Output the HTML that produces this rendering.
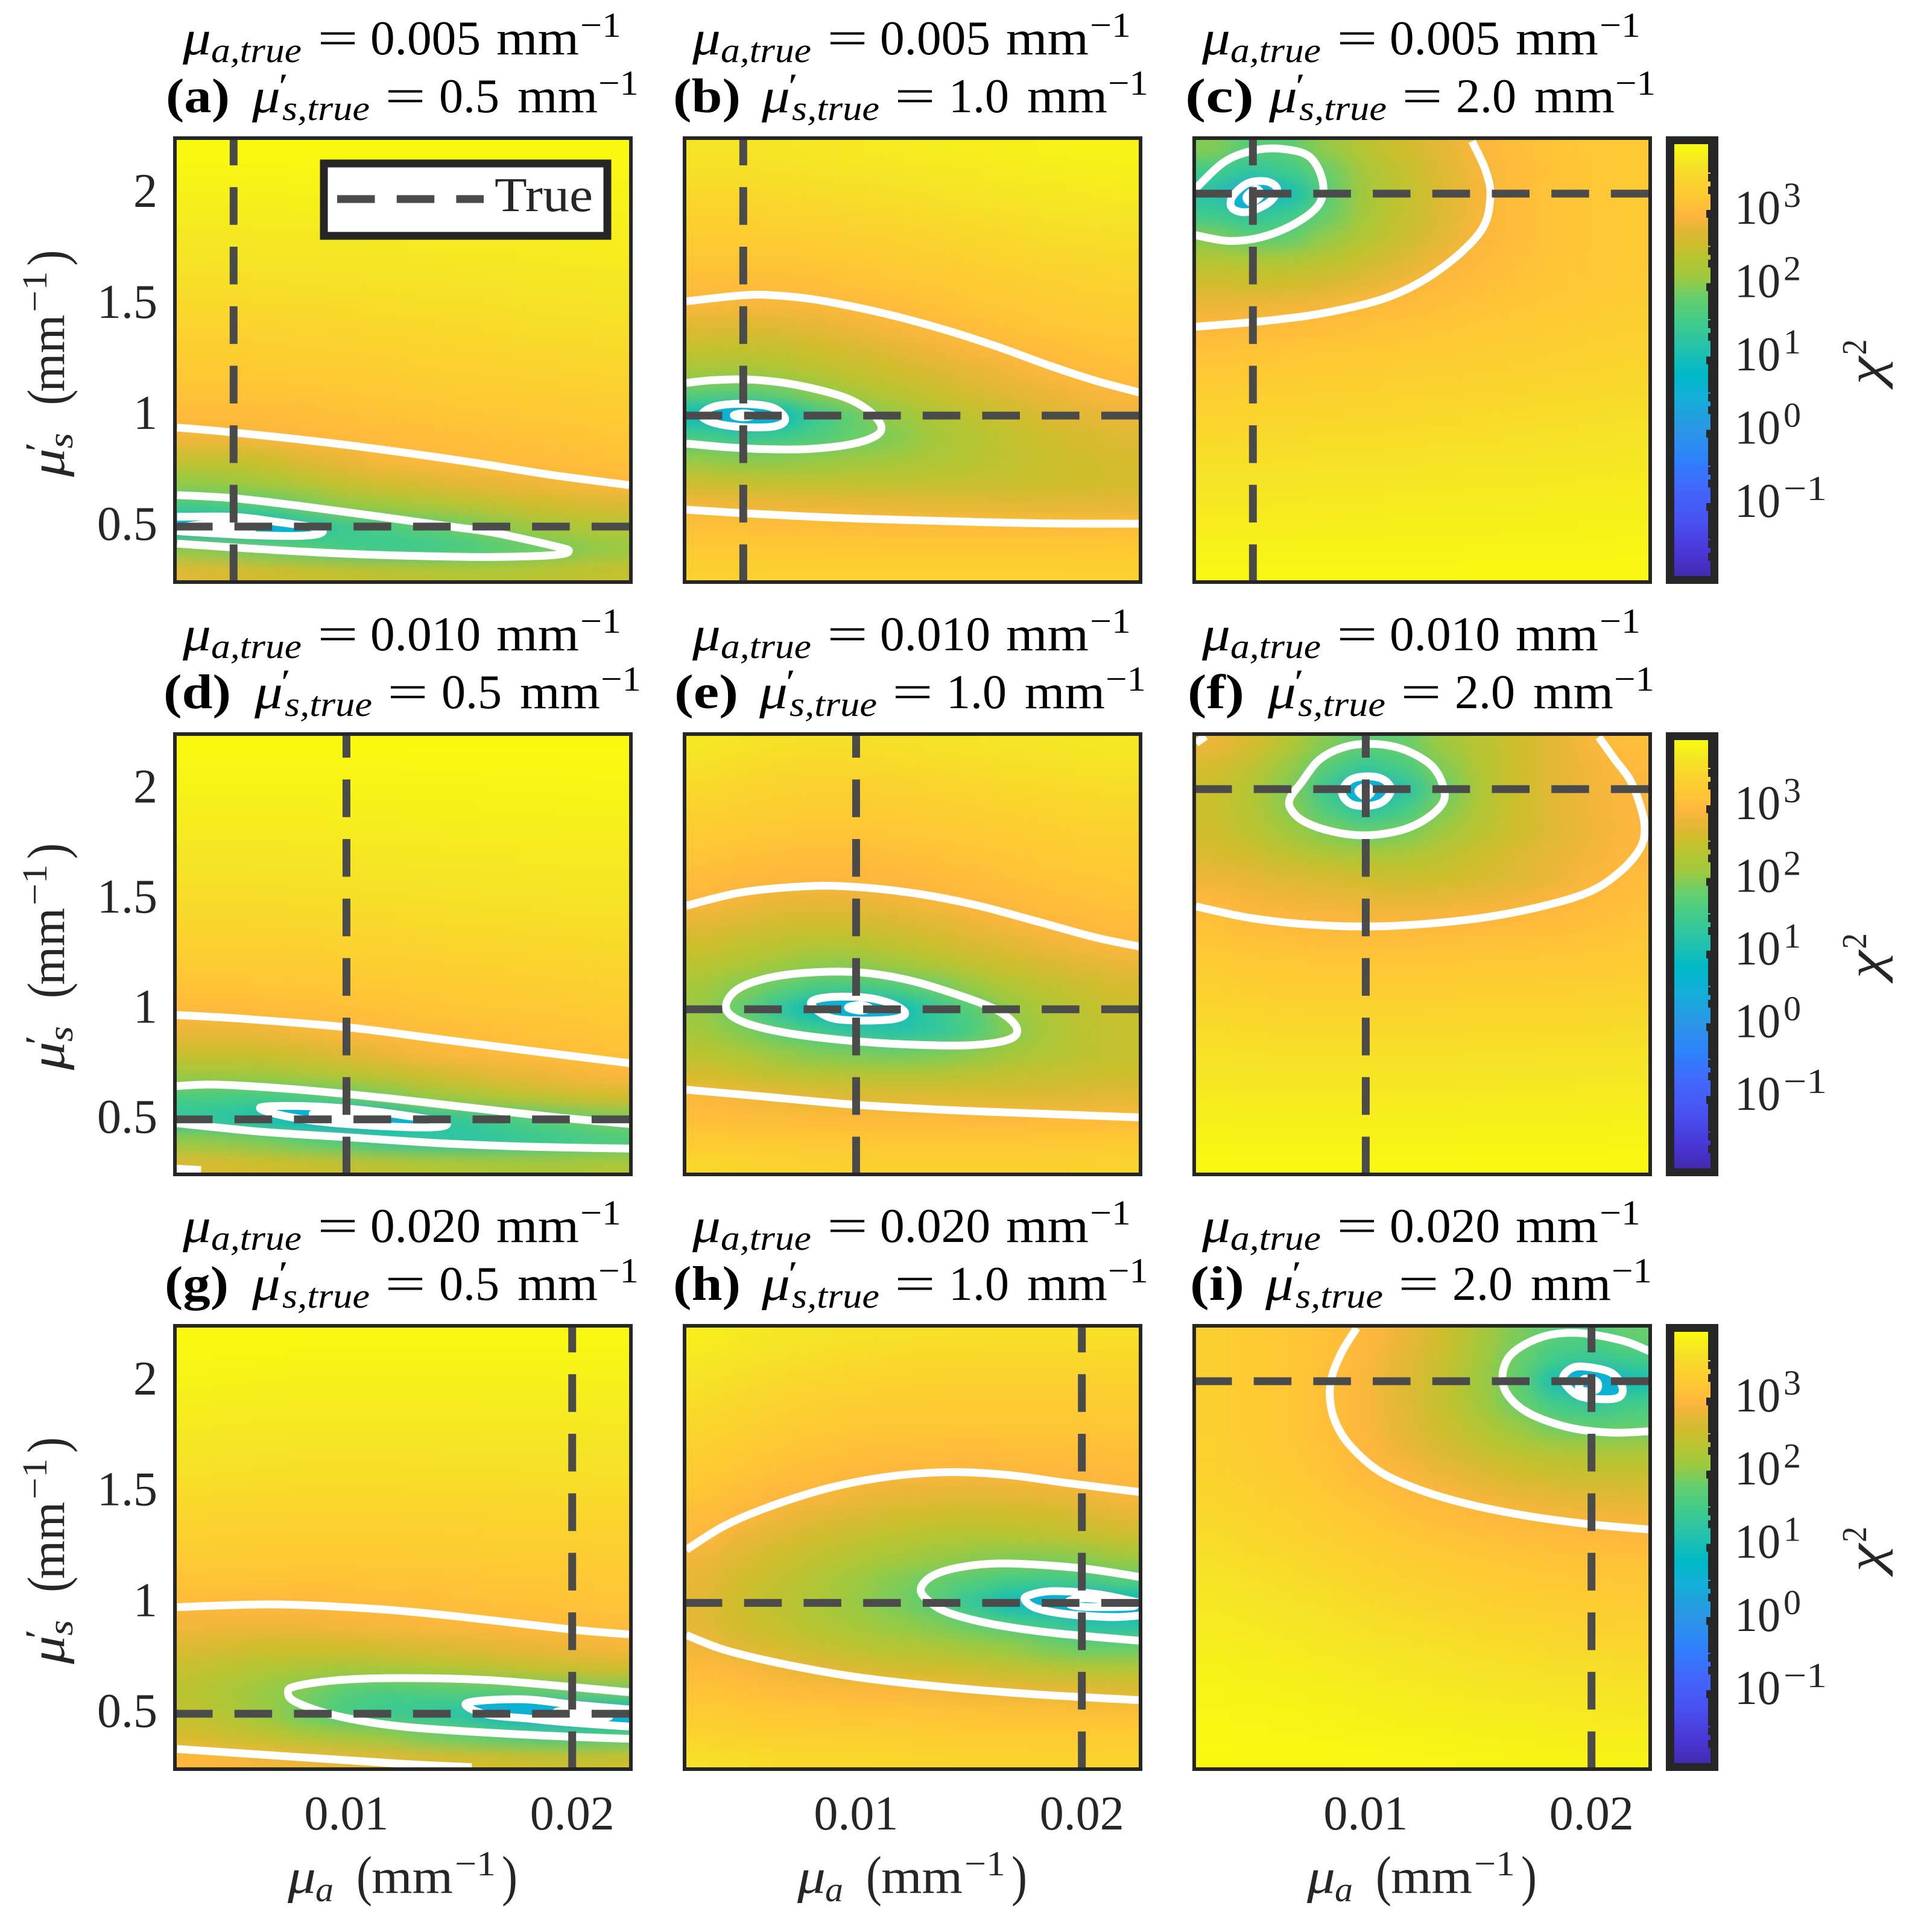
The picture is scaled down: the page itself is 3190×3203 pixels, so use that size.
<!DOCTYPE html>
<html lang="en">
<head>
<meta charset="utf-8">
<title>Chi-squared maps</title>
<style>
html,body{margin:0;padding:0;background:#fff;width:3190px;height:3203px;overflow:hidden}
svg{display:block}
text{font-family:"Liberation Serif","DejaVu Serif",serif}
</style>
</head>
<body>
<svg id="fig" xmlns="http://www.w3.org/2000/svg" width="3190" height="3203" viewBox="0 0 3190 3203"></svg>
<script>
// ---------- data ----------
const panelLetters = ['a','b','c','d','e','f','g','h','i'];
const trueMuA = [0.005,0.005,0.005,0.010,0.010,0.010,0.020,0.020,0.020];
const trueMuS = [0.5,1.0,2.0,0.5,1.0,2.0,0.5,1.0,2.0];
const xTicks = [0.01,0.02];
const xTickLabels = ['0.01','0.02'];
const yTicks = [0.5,1,1.5,2];
const yTickLabels = ['0.5','1','1.5','2'];
const cbExponents = [3,2,1,0,-1];
const cbExponentLabels = ['3','2','1','0','\u22121'];
const cbTabDecades = [3,2,1,0,-1,-2];
const xCells = [.0032,.0049,.0066,.0083,.0100,.0117,.0134,.0151,.0168,.0185,.0202,.0218];
const yCells = [2.2,2.1,2.0,1.9,1.8,1.7,1.6,1.5,1.4,1.3,1.2,1.1,1.0,.9,.8,.7,.6,.5,.4,.3];

// log10(chi^2), rows top to bottom, columns left to right
const fieldA = [
[3.93,3.93,3.93,3.93,3.93,3.93,3.93,3.93,3.93,3.93,3.93,3.93],
[3.88,3.88,3.88,3.88,3.89,3.89,3.89,3.89,3.9,3.9,3.9,3.9],
[3.83,3.83,3.83,3.84,3.84,3.84,3.85,3.85,3.85,3.86,3.86,3.86],
[3.78,3.78,3.78,3.79,3.79,3.8,3.8,3.81,3.81,3.82,3.82,3.83],
[3.72,3.72,3.73,3.73,3.74,3.75,3.76,3.77,3.77,3.78,3.79,3.8],
[3.66,3.66,3.67,3.68,3.69,3.7,3.71,3.72,3.73,3.74,3.75,3.76],
[3.6,3.6,3.61,3.62,3.63,3.64,3.65,3.67,3.68,3.69,3.7,3.71],
[3.53,3.53,3.54,3.55,3.57,3.58,3.6,3.61,3.62,3.64,3.65,3.66],
[3.45,3.45,3.46,3.48,3.49,3.51,3.53,3.55,3.56,3.58,3.59,3.6],
[3.36,3.36,3.37,3.39,3.41,3.43,3.45,3.47,3.49,3.51,3.52,3.54],
[3.26,3.26,3.28,3.3,3.32,3.34,3.37,3.39,3.41,3.43,3.45,3.47],
[3.15,3.15,3.17,3.19,3.22,3.24,3.27,3.3,3.32,3.34,3.36,3.38],
[3.04,3.04,3.06,3.08,3.11,3.14,3.17,3.2,3.22,3.25,3.27,3.29],
[2.9,2.9,2.95,3.0,3.02,3.05,3.08,3.1,3.13,3.15,3.17,3.2],
[2.5,2.5,2.6,2.75,2.85,2.95,3.0,3.03,3.06,3.08,3.1,3.12],
[2.1,2.15,2.25,2.4,2.55,2.65,2.7,2.8,2.85,2.9,2.95,3.0],
[1.6,1.65,1.75,1.95,2.1,2.2,2.3,2.4,2.5,2.6,2.65,2.7],
[0.6,0.55,0.9,1.2,1.45,1.6,1.75,1.9,2.05,2.2,2.3,2.35],
[2.05,1.95,1.85,1.7,1.55,1.45,1.45,1.55,1.7,1.85,2.0,2.1],
[2.75,2.7,2.6,2.55,2.5,2.45,2.4,2.35,2.35,2.4,2.45,2.5]];
const fieldB = [
[3.68,3.68,3.70,3.72,3.74,3.76,3.78,3.80,3.82,3.84,3.85,3.86],
[3.6,3.6,3.62,3.64,3.67,3.7,3.72,3.74,3.76,3.78,3.8,3.82],
[3.52,3.52,3.54,3.56,3.58,3.6,3.64,3.67,3.7,3.72,3.74,3.76],
[3.42,3.42,3.44,3.46,3.48,3.52,3.55,3.58,3.61,3.64,3.66,3.68],
[3.32,3.32,3.33,3.35,3.38,3.42,3.46,3.5,3.53,3.56,3.58,3.6],
[3.2,3.2,3.21,3.23,3.27,3.31,3.36,3.4,3.44,3.47,3.5,3.52],
[3.07,3.07,3.08,3.1,3.15,3.2,3.25,3.3,3.34,3.38,3.41,3.44],
[2.95,2.94,2.95,2.97,3.02,3.08,3.14,3.2,3.25,3.29,3.33,3.36],
[2.75,2.72,2.75,2.8,2.88,2.95,3.01,3.08,3.14,3.2,3.24,3.27],
[2.5,2.48,2.52,2.6,2.68,2.78,2.88,2.95,3.03,3.09,3.14,3.18],
[2.2,2.18,2.28,2.4,2.5,2.6,2.7,2.8,2.9,2.98,3.04,3.08],
[1.75,1.7,1.85,2.05,2.25,2.4,2.52,2.65,2.75,2.85,2.92,2.98],
[0.9,0.2,0.9,1.45,1.85,2.1,2.28,2.45,2.58,2.7,2.78,2.85],
[1.6,1.4,1.5,1.65,1.85,2.0,2.2,2.35,2.47,2.58,2.66,2.72],
[2.1,2.05,2.05,2.1,2.15,2.2,2.28,2.38,2.46,2.54,2.6,2.66],
[2.55,2.5,2.48,2.45,2.45,2.45,2.47,2.5,2.53,2.56,2.6,2.64],
[2.9,2.88,2.86,2.84,2.82,2.8,2.78,2.78,2.77,2.77,2.78,2.8],
[3.1,3.1,3.08,3.07,3.06,3.05,3.05,3.05,3.05,3.05,3.05,3.06],
[3.28,3.28,3.27,3.26,3.25,3.25,3.25,3.25,3.25,3.25,3.26,3.27],
[3.42,3.42,3.41,3.41,3.41,3.41,3.41,3.41,3.41,3.41,3.42,3.42]];
const fieldC = [
[2.0,1.7,1.75,2.1,2.4,2.6,2.8,2.97,3.1,3.18,3.24,3.28],
[1.5,1.3,1.5,1.85,2.25,2.5,2.72,2.93,3.08,3.17,3.23,3.27],
[1.2,0.2,1.0,1.75,2.2,2.47,2.7,2.92,3.07,3.16,3.22,3.26],
[1.5,1.3,1.5,1.85,2.25,2.5,2.72,2.94,3.07,3.16,3.22,3.26],
[2.0,1.75,1.8,2.1,2.35,2.55,2.78,2.97,3.08,3.16,3.22,3.26],
[2.35,2.3,2.3,2.4,2.55,2.72,2.9,3.03,3.11,3.18,3.23,3.27],
[2.6,2.58,2.6,2.66,2.78,2.9,3.02,3.09,3.15,3.21,3.25,3.29],
[2.85,2.85,2.88,2.92,3.0,3.05,3.11,3.16,3.21,3.25,3.29,3.33],
[3.0,3.02,3.05,3.08,3.12,3.16,3.2,3.24,3.28,3.32,3.35,3.38],
[3.12,3.15,3.18,3.2,3.23,3.26,3.29,3.32,3.35,3.38,3.41,3.43],
[3.25,3.27,3.29,3.31,3.33,3.35,3.37,3.4,3.42,3.44,3.46,3.48],
[3.35,3.37,3.38,3.4,3.42,3.44,3.46,3.47,3.49,3.51,3.53,3.55],
[3.45,3.46,3.47,3.49,3.5,3.51,3.53,3.54,3.56,3.58,3.59,3.6],
[3.53,3.54,3.55,3.56,3.57,3.58,3.6,3.61,3.62,3.63,3.65,3.66],
[3.6,3.61,3.62,3.63,3.64,3.65,3.66,3.67,3.68,3.69,3.7,3.71],
[3.67,3.68,3.69,3.7,3.7,3.71,3.72,3.73,3.73,3.74,3.75,3.76],
[3.74,3.74,3.75,3.75,3.76,3.76,3.77,3.78,3.78,3.79,3.79,3.8],
[3.8,3.8,3.8,3.81,3.81,3.82,3.82,3.82,3.83,3.83,3.84,3.84],
[3.85,3.85,3.85,3.86,3.86,3.86,3.86,3.87,3.87,3.87,3.87,3.88],
[3.9,3.9,3.9,3.9,3.9,3.9,3.9,3.91,3.91,3.91,3.91,3.91]];
const fieldD = [
[3.93,3.93,3.93,3.93,3.93,3.93,3.93,3.93,3.93,3.93,3.93,3.93],
[3.89,3.89,3.89,3.89,3.89,3.89,3.9,3.9,3.9,3.9,3.91,3.91],
[3.85,3.85,3.85,3.85,3.85,3.85,3.86,3.86,3.87,3.87,3.87,3.88],
[3.8,3.8,3.8,3.8,3.81,3.81,3.82,3.82,3.83,3.83,3.84,3.84],
[3.75,3.75,3.75,3.76,3.76,3.77,3.77,3.78,3.79,3.79,3.8,3.8],
[3.69,3.69,3.7,3.7,3.71,3.72,3.73,3.74,3.74,3.75,3.76,3.76],
[3.63,3.63,3.64,3.65,3.66,3.67,3.68,3.69,3.7,3.71,3.72,3.72],
[3.56,3.56,3.57,3.58,3.59,3.6,3.62,3.63,3.64,3.65,3.66,3.67],
[3.48,3.48,3.49,3.5,3.52,3.53,3.55,3.56,3.57,3.59,3.6,3.61],
[3.4,3.4,3.41,3.42,3.44,3.45,3.47,3.49,3.5,3.52,3.53,3.55],
[3.29,3.29,3.3,3.32,3.34,3.36,3.38,3.4,3.42,3.44,3.45,3.47],
[3.17,3.17,3.18,3.2,3.23,3.25,3.28,3.3,3.32,3.34,3.37,3.39],
[3.03,3.04,3.06,3.08,3.11,3.14,3.17,3.2,3.22,3.25,3.27,3.3],
[2.85,2.85,2.88,2.94,3.0,3.03,3.06,3.09,3.12,3.15,3.17,3.2],
[2.55,2.55,2.58,2.65,2.75,2.85,2.95,3.0,3.03,3.06,3.09,3.12],
[2.15,2.15,2.2,2.28,2.38,2.48,2.58,2.68,2.78,2.85,2.92,2.97],
[1.6,1.55,1.55,1.65,1.78,1.95,2.1,2.22,2.35,2.45,2.55,2.62],
[1.3,1.2,1.0,0.7,0.3,0.8,1.2,1.35,1.55,1.7,1.85,1.95],
[2.1,2.05,1.95,1.8,1.65,1.4,1.3,1.25,1.3,1.4,1.5,1.6],
[2.7,2.65,2.6,2.55,2.5,2.42,2.35,2.3,2.25,2.25,2.25,2.3]];
const fieldE = [
[3.72,3.66,3.62,3.6,3.6,3.62,3.64,3.66,3.68,3.7,3.72,3.74],
[3.62,3.57,3.53,3.5,3.5,3.52,3.55,3.58,3.6,3.62,3.64,3.66],
[3.52,3.47,3.43,3.4,3.4,3.42,3.45,3.48,3.51,3.54,3.56,3.58],
[3.42,3.37,3.33,3.31,3.31,3.32,3.35,3.38,3.42,3.45,3.48,3.5],
[3.3,3.26,3.22,3.2,3.2,3.22,3.25,3.28,3.32,3.36,3.39,3.42],
[3.18,3.14,3.1,3.08,3.08,3.1,3.14,3.18,3.22,3.27,3.3,3.33],
[3.06,3.02,3.0,3.0,3.0,3.0,3.04,3.09,3.13,3.18,3.21,3.25],
[2.98,2.92,2.85,2.82,2.85,2.9,2.96,3.0,3.03,3.09,3.12,3.16],
[2.8,2.72,2.65,2.62,2.65,2.7,2.78,2.87,2.95,3.0,3.03,3.07],
[2.6,2.5,2.42,2.38,2.4,2.48,2.58,2.68,2.78,2.88,2.95,2.99],
[2.4,2.3,2.15,2.05,2.05,2.15,2.3,2.45,2.57,2.67,2.75,2.82],
[2.2,2.0,1.8,1.6,1.55,1.65,1.85,2.1,2.3,2.45,2.55,2.65],
[2.1,1.8,1.3,0.8,0.1,0.9,1.35,1.7,2.1,2.3,2.45,2.55],
[2.2,2.0,1.75,1.55,1.3,1.2,1.3,1.6,2.0,2.25,2.42,2.5],
[2.4,2.3,2.1,2.0,1.95,1.9,1.95,2.05,2.2,2.32,2.42,2.5],
[2.65,2.55,2.45,2.4,2.38,2.38,2.38,2.42,2.48,2.52,2.55,2.58],
[2.98,2.92,2.85,2.78,2.75,2.72,2.72,2.72,2.72,2.73,2.75,2.78],
[3.1,3.08,3.06,3.04,3.03,3.02,3.02,3.01,3.01,3.02,3.03,3.04],
[3.3,3.28,3.26,3.25,3.24,3.23,3.23,3.23,3.23,3.24,3.25,3.26],
[3.5,3.46,3.43,3.41,3.4,3.39,3.39,3.39,3.39,3.4,3.42,3.44]];
const fieldF = [
[2.85,2.65,2.35,2.0,1.75,1.85,2.15,2.4,2.6,2.8,2.95,3.1],
[2.65,2.45,2.1,1.7,1.4,1.6,2.0,2.35,2.6,2.8,2.92,3.02],
[2.55,2.35,2.0,1.4,0.3,1.2,1.85,2.3,2.58,2.78,2.9,2.99],
[2.55,2.38,2.05,1.65,1.3,1.55,2.0,2.35,2.58,2.78,2.9,2.98],
[2.6,2.45,2.2,2.0,1.85,1.95,2.2,2.42,2.6,2.75,2.88,2.98],
[2.7,2.6,2.45,2.32,2.25,2.3,2.42,2.58,2.72,2.83,2.92,3.0],
[2.85,2.8,2.72,2.65,2.58,2.55,2.58,2.65,2.75,2.85,2.98,3.05],
[3.0,2.92,2.88,2.85,2.82,2.8,2.82,2.86,2.9,2.98,3.03,3.1],
[3.12,3.04,3.0,2.98,2.98,2.97,2.98,3.0,3.02,3.05,3.1,3.15],
[3.2,3.15,3.12,3.1,3.1,3.1,3.11,3.12,3.14,3.16,3.18,3.22],
[3.3,3.26,3.24,3.22,3.22,3.22,3.23,3.24,3.25,3.27,3.28,3.3],
[3.4,3.36,3.34,3.33,3.33,3.33,3.34,3.35,3.36,3.37,3.38,3.4],
[3.48,3.46,3.44,3.43,3.43,3.43,3.44,3.45,3.46,3.46,3.47,3.48],
[3.56,3.54,3.53,3.52,3.52,3.52,3.53,3.54,3.54,3.55,3.55,3.56],
[3.63,3.62,3.61,3.6,3.6,3.6,3.61,3.62,3.62,3.63,3.63,3.64],
[3.7,3.69,3.68,3.68,3.68,3.68,3.69,3.69,3.7,3.7,3.7,3.71],
[3.76,3.75,3.75,3.75,3.75,3.75,3.75,3.76,3.76,3.76,3.77,3.77],
[3.82,3.81,3.81,3.81,3.81,3.81,3.81,3.82,3.82,3.82,3.82,3.83],
[3.87,3.86,3.86,3.86,3.86,3.86,3.86,3.87,3.87,3.87,3.87,3.88],
[3.91,3.91,3.91,3.91,3.91,3.91,3.91,3.91,3.91,3.91,3.91,3.92]];
const fieldG = [
[3.93,3.93,3.93,3.92,3.92,3.92,3.92,3.92,3.92,3.92,3.92,3.92],
[3.89,3.88,3.88,3.87,3.87,3.87,3.87,3.87,3.87,3.87,3.87,3.87],
[3.85,3.84,3.83,3.82,3.82,3.82,3.82,3.82,3.82,3.82,3.83,3.83],
[3.8,3.79,3.78,3.77,3.77,3.77,3.77,3.77,3.78,3.78,3.78,3.78],
[3.75,3.74,3.73,3.72,3.72,3.72,3.72,3.72,3.73,3.73,3.73,3.74],
[3.69,3.68,3.67,3.66,3.66,3.66,3.66,3.67,3.67,3.67,3.68,3.68],
[3.63,3.62,3.61,3.6,3.6,3.6,3.6,3.61,3.61,3.62,3.62,3.63],
[3.56,3.55,3.54,3.53,3.53,3.53,3.54,3.54,3.55,3.55,3.56,3.56],
[3.48,3.47,3.46,3.45,3.45,3.45,3.46,3.46,3.47,3.48,3.48,3.49],
[3.39,3.38,3.37,3.36,3.36,3.36,3.37,3.38,3.39,3.39,3.4,3.41],
[3.29,3.28,3.27,3.26,3.26,3.27,3.28,3.29,3.3,3.31,3.32,3.33],
[3.17,3.16,3.15,3.14,3.14,3.16,3.17,3.18,3.2,3.21,3.23,3.25],
[3.03,3.02,3.02,3.03,3.04,3.06,3.08,3.1,3.12,3.14,3.16,3.18],
[2.9,2.88,2.88,2.9,2.92,2.94,2.96,2.98,3.0,3.02,3.04,3.06],
[2.7,2.65,2.6,2.6,2.62,2.65,2.7,2.75,2.8,2.84,2.88,2.92],
[2.5,2.4,2.3,2.25,2.22,2.25,2.3,2.35,2.42,2.5,2.55,2.6],
[2.4,2.25,2.1,1.95,1.7,1.6,1.65,1.7,1.75,1.8,1.85,1.9],
[2.45,2.3,2.1,1.85,1.6,1.45,1.35,1.2,0.9,0.4,0.2,0.8],
[2.65,2.55,2.45,2.3,2.2,2.1,1.95,1.85,1.7,1.6,1.6,1.65],
[3.0,2.95,2.9,2.85,2.8,2.75,2.7,2.65,2.6,2.55,2.52,2.55]];
const fieldH = [
[3.8,3.74,3.7,3.67,3.65,3.63,3.62,3.6,3.6,3.6,3.62,3.62],
[3.72,3.66,3.62,3.58,3.55,3.53,3.52,3.51,3.5,3.5,3.51,3.52],
[3.65,3.58,3.53,3.49,3.45,3.43,3.42,3.41,3.41,3.41,3.41,3.42],
[3.57,3.5,3.44,3.38,3.35,3.33,3.32,3.31,3.31,3.31,3.32,3.33],
[3.48,3.41,3.34,3.28,3.24,3.22,3.2,3.2,3.2,3.21,3.22,3.23],
[3.39,3.3,3.23,3.17,3.13,3.1,3.09,3.08,3.09,3.1,3.11,3.13],
[3.3,3.2,3.12,3.06,3.01,3.0,2.99,2.98,2.99,3.0,3.01,3.03],
[3.2,3.08,3.0,2.98,2.9,2.85,2.82,2.8,2.82,2.85,2.9,2.98],
[3.08,3.0,2.9,2.8,2.72,2.65,2.6,2.58,2.6,2.62,2.7,2.8],
[3.0,2.85,2.72,2.62,2.5,2.42,2.35,2.32,2.35,2.4,2.48,2.55],
[2.88,2.72,2.58,2.45,2.32,2.22,2.12,2.05,2.0,2.0,2.05,2.15],
[2.8,2.62,2.48,2.32,2.15,2.0,1.85,1.7,1.55,1.5,1.55,1.7],
[2.75,2.58,2.42,2.27,2.1,1.95,1.75,1.35,0.95,0.6,0.2,0.8],
[2.78,2.62,2.5,2.35,2.22,2.1,2.0,1.85,1.65,1.5,1.2,1.2],
[2.9,2.75,2.65,2.52,2.42,2.35,2.28,2.2,2.1,1.95,1.85,1.85],
[3.05,2.98,2.9,2.8,2.7,2.63,2.6,2.55,2.48,2.42,2.38,2.36],
[3.17,3.12,3.08,3.04,3.0,2.98,2.94,2.9,2.85,2.82,2.78,2.75],
[3.3,3.27,3.24,3.22,3.2,3.18,3.16,3.14,3.12,3.11,3.1,3.1],
[3.45,3.42,3.4,3.38,3.36,3.35,3.33,3.32,3.31,3.3,3.3,3.3],
[3.62,3.58,3.54,3.52,3.5,3.48,3.47,3.46,3.45,3.45,3.45,3.46]];
const fieldI = [
[3.38,3.3,3.22,3.12,3.0,2.85,2.6,2.25,1.95,1.7,1.65,1.85],
[3.38,3.3,3.22,3.12,2.98,2.78,2.55,2.2,1.85,1.5,1.4,1.55],
[3.38,3.3,3.22,3.1,2.95,2.75,2.5,2.15,1.8,1.0,0.1,1.0],
[3.38,3.3,3.22,3.1,2.95,2.75,2.5,2.2,1.85,1.5,1.35,1.55],
[3.38,3.3,3.22,3.1,2.96,2.78,2.58,2.33,2.1,1.85,1.75,1.8],
[3.4,3.32,3.25,3.12,3.0,2.85,2.68,2.5,2.35,2.25,2.2,2.2],
[3.42,3.36,3.28,3.16,3.03,2.95,2.82,2.7,2.6,2.52,2.48,2.48],
[3.46,3.4,3.33,3.23,3.13,3.02,2.96,2.87,2.8,2.75,2.72,2.7],
[3.51,3.45,3.39,3.31,3.22,3.13,3.05,3.0,2.96,2.92,2.9,2.88],
[3.56,3.51,3.45,3.38,3.3,3.23,3.16,3.11,3.07,3.04,3.02,3.0],
[3.62,3.57,3.52,3.46,3.39,3.33,3.27,3.22,3.18,3.15,3.13,3.12],
[3.67,3.63,3.58,3.53,3.47,3.42,3.37,3.32,3.28,3.25,3.23,3.22],
[3.72,3.68,3.64,3.6,3.55,3.5,3.46,3.42,3.38,3.35,3.33,3.32],
[3.77,3.74,3.7,3.66,3.62,3.58,3.54,3.5,3.47,3.44,3.42,3.41],
[3.8,3.78,3.75,3.72,3.69,3.65,3.62,3.58,3.55,3.53,3.51,3.5],
[3.84,3.82,3.8,3.77,3.74,3.71,3.68,3.65,3.63,3.61,3.6,3.59],
[3.87,3.85,3.83,3.81,3.79,3.77,3.75,3.72,3.7,3.68,3.67,3.66],
[3.89,3.88,3.87,3.85,3.83,3.81,3.8,3.78,3.77,3.75,3.74,3.73],
[3.91,3.9,3.89,3.88,3.87,3.86,3.85,3.83,3.82,3.81,3.8,3.8],
[3.93,3.92,3.92,3.91,3.9,3.9,3.89,3.88,3.87,3.87,3.86,3.86]];
const fields = [fieldA,fieldB,fieldC,fieldD,fieldE,fieldF,fieldG,fieldH,fieldI];

// contours as [mu_a, mu_s] points in data units; the entry just before the last is the inner well
const contoursA = [
[[.0025,.946],[.00498,.924],[.00966,.872],[.01527,.794],[.0190,.734],[.02252,.687]],
[[.0025,.642],[.00498,.628],[.00778,.595],[.01108,.55],[.01463,.50],[.01654,.472],[.01927,.411],[.01985,.39],[.0192,.372],[.0165,.363],[.0134,.367],[.00966,.379],[.00592,.400],[.0025,.423]],
[[.0025,.544],[.00498,.544],[.00685,.522],[.00875,.492],[.0088,.468],[.00778,.458],[.00592,.461],[.00405,.47],[.0025,.48]],
[[.00311,.504],[.00461,.514],[.00592,.497],[.00461,.483],[.00311,.492],[.00311,.504]]];
const contoursB = [
[[.00248,1.515],[.00487,1.541],[.00619,1.543],[.00816,1.523],[.01079,1.471],[.01342,1.402],[.01605,1.318],[.01868,1.221],[.02065,1.156],[.02256,1.104]],
[[.00248,.576],[.00487,.561],[.00882,.541],[.01276,.528],[.01802,.515],[.02256,.513]],
[[.00248,1.147],[.00356,1.159],[.00513,1.163],[.00684,1.147],[.00855,1.111],[.00974,1.072],[.01066,1.014],[.01112,.949],[.01079,.904],[.0096,.868],[.00776,.849],[.00592,.849],[.00421,.858],[.00248,.874]],
[[.00316,1.001],[.00369,1.04],[.00487,1.053],[.00619,1.04],[.00678,1.001],[.00678,.968],[.00619,.949],[.00487,.949],[.00369,.968],[.00316,1.001]],
[[.00458,1.001],[.005,1.01],[.00546,1.001],[.005,.992],[.00458,1.001]]];
const contoursC = [
[[.01471,2.236],[.0153,2.107],[.01552,1.986],[.01509,1.83],[.01332,1.661],[.01114,1.539],[.0084,1.467],[.00568,1.428],[.00244,1.40]],
[[.00244,2.02],[.00371,2.141],[.00497,2.193],[.00624,2.202],[.0075,2.167],[.00809,2.055],[.00792,1.951],[.00687,1.865],[.00539,1.804],[.00392,1.787],[.00244,1.813]],
[[.00409,1.986],[.00476,2.046],[.0056,2.055],[.00607,2.02],[.00571,1.96],[.00476,1.917],[.00409,1.934],[.00409,1.986]],
[[.00472,1.986],[.00514,2.02],[.00535,1.994],[.00493,1.96],[.00472,1.986]]];
const contoursD = [
[[.00244,.974],[.00553,.956],[.01013,.917],[.01408,.865],[.01802,.813],[.02256,.755]],
[[.00244,.651],[.00421,.658],[.0075,.638],[.01145,.60],[.01539,.554],[.01934,.509],[.02256,.479]],
[[.00244,.483],[.00619,.444],[.01013,.418],[.01408,.392],[.01802,.376],[.02256,.367]],
[[.00244,.276],[.00356,.27]],
[[.00619,.554],[.00776,.561],[.01013,.548],[.01276,.515],[.0144,.483],[.01381,.464],[.01145,.47],[.00882,.49],[.00697,.522],[.00619,.554]],
[[.00868,.528],[.01013,.522],[.01171,.502],[.01013,.496],[.00868,.515],[.00868,.528]]];
const contoursE = [
[[.00247,1.47],[.00486,1.53],[.00759,1.558],[.00964,1.558],[.01238,1.53],[.01511,1.478],[.01784,1.404],[.02058,1.327],[.02256,1.285]],
[[.00247,.635],[.00554,.607],[.00964,.569],[.01374,.544],[.01784,.527],[.02256,.509]],
[[.00424,1.005],[.00472,1.089],[.00623,1.145],[.00828,1.169],[.01033,1.166],[.01238,1.131],[.01443,1.068],[.0162,.998],[.01709,.921],[.01682,.865],[.01511,.837],[.01238,.84],[.00964,.858],[.00691,.893],[.0050,.942],[.00424,1.005]],
[[.0080,1.026],[.00869,1.054],[.01033,1.054],[.01156,1.026],[.01217,.984],[.01169,.956],[.01019,.949],[.00882,.963],[.0080,1.026]],
[[.00964,1.008],[.01019,1.019],[.0106,1.005],[.01019,.994],[.00964,1.008]]];
const contoursF = [
[[.00248,2.209],[.0029,2.24]],
[[.00248,1.467],[.00487,1.415],[.0075,1.385],[.01013,1.376],[.01276,1.389],[.01539,1.419],[.01802,1.473],[.02,1.538],[.02131,1.629],[.02216,1.732],[.02236,1.823],[.02216,1.926],[.0217,2.043],[.02104,2.134],[.02032,2.237]],
[[.00665,1.96],[.00715,2.03],[.00795,2.134],[.00908,2.192],[.01039,2.205],[.01171,2.179],[.0129,2.108],[.01342,2.017],[.01342,1.939],[.01263,1.862],[.01145,1.81],[.00987,1.79],[.00842,1.81],[.00724,1.855],[.00668,1.91],[.00665,1.96]],
[[.00895,1.985],[.00934,2.043],[.01013,2.058],[.01079,2.043],[.01112,1.998],[.01079,1.946],[.01013,1.924],[.00934,1.933],[.00895,1.985]],
[[.00967,1.991],[.01,2.011],[.01026,1.991],[.01,1.965],[.00967,1.991]]];
const contoursG = [
[[.0025,.981],[.00685,.993],[.01153,.971],[.01527,.935],[.01995,.88],[.02252,.858]],
[[.0025,.341],[.00779,.305],[.01247,.274],[.01555,.259]],
[[.02252,.597],[.01995,.621],[.0162,.652],[.01247,.661],[.00966,.652],[.00779,.625],[.00741,.597],[.00779,.551],[.00966,.488],[.01247,.442],[.0162,.415],[.01995,.396],[.02252,.387]],
[[.02252,.519],[.01995,.542],[.01807,.564],[.0162,.561],[.01527,.542],[.0162,.497],[.01807,.478],[.01995,.46],[.02252,.442]],
[[.0194,.511],[.02052,.506],[.02164,.487],[.02052,.478],[.0194,.493],[.0194,.511]]];
const contoursH = [
[[.00248,1.24],[.00421,1.35],[.00619,1.435],[.00882,1.519],[.01145,1.57],[.01408,1.59],[.01671,1.577],[.01934,1.541],[.02256,1.5]],
[[.00248,.855],[.00421,.787],[.00684,.723],[.01013,.664],[.01408,.619],[.01802,.587],[.02256,.561]],
[[.02256,1.117],[.01999,1.156],[.01671,1.178],[.01473,1.163],[.01342,1.124],[.01287,1.066],[.01315,1.014],[.01408,.956],[.01605,.904],[.01868,.865],[.02256,.829]],
[[.02256,1.001],[.02065,1.04],[.01868,1.053],[.01763,1.033],[.0175,1.01],[.01802,.975],[.01934,.949],[.02131,.936],[.02256,.943]],
[[.01947,1.01],[.02039,1.02],[.02236,.988],[.02065,.981],[.0196,.988],[.01947,1.01]]];
const contoursI = [
[[.0096,2.24],[.00895,2.134],[.00849,2.017],[.00842,1.913],[.00868,1.81],[.00934,1.706],[.01066,1.59],[.0125,1.506],[.01473,1.441],[.01736,1.389],[.01999,1.354],[.02256,1.331]],
[[.02256,2.136],[.02131,2.185],[.01934,2.218],[.01776,2.198],[.01644,2.121],[.01605,2.017],[.01638,1.926],[.01736,1.849],[.01907,1.79],[.02091,1.768],[.02256,1.774]],
[[.01874,2.011],[.0192,2.062],[.01999,2.062],[.02091,2.036],[.02137,1.972],[.02118,1.926],[.02026,1.92],[.01934,1.939],[.01874,2.011]],
[[.01944,1.972],[.0197,2.011],[.02023,1.998],[.02023,1.963],[.0197,1.955],[.01944,1.972]]];
const contours = [contoursA,contoursB,contoursC,contoursD,contoursE,contoursF,contoursG,contoursH,contoursI];

// colormap: [log10 value, colour]
const cmapLogs = [3.95,3.7,3.43,3.15,3.0,2.85,2.6,2.35,2.13,1.85,1.55,1.2,.82,.48,.07,-.35,-.77,-1.19,-1.6,-1.95];
const cmapColors = ['#f9fb0e','#f5e625','#fbd22e','#ffc337','#ffb73d','#ecb63a','#cfbd2b','#b4c633','#9dc940','#66ce6c','#42cc88','#28c3a9','#00b9c7','#14aed9','#2a97e5','#2e82fb','#4266fb','#4852f0','#4a38d8','#422ab0'];

// ---------- layout (not data) ----------
const NS='http://www.w3.org/2000/svg';
const svg=document.getElementById('fig');
const colX=[290,1135,1980], rowY=[229,1217,2198], rowH=[736,730,735], W=756;
const xMin=.0024,xMax=.0226,yMin=.25,yMax=2.25;
const ink='#262626', dashInk='#4b4b4b';
// per-panel nudges of the bold label and the title's second line
const labelShift=[-15,-19,-15,-19,-17,-11,-17,-19,-7];
const labelWidth=[106,112,114,112,106,94,106,112,90];
const line2Shift=[0,0,-4,4,-4,-6,0,0,-10];

function el(tag,attrs,parent){
  const e=document.createElementNS(NS,tag);
  for(const k in attrs) e.setAttribute(k,attrs[k]);
  (parent||svg).appendChild(e);
  return e;
}
function txt(parent,str,x,y,size,len,style,fill,name,anchor){
  const t=el('text',{x:x,y:y,'font-size':size,fill:fill||ink},parent);
  if(len){t.setAttribute('textLength',len);t.setAttribute('lengthAdjust','spacingAndGlyphs');}
  if(style==='i')t.setAttribute('font-style','italic');
  if(style==='b')t.setAttribute('font-weight','bold');
  if(anchor)t.setAttribute('text-anchor',anchor);
  
  
  t.textContent=str;
  return t;
}
function hex(c){return [1,3,5].map(i=>parseInt(c.substr(i,2),16));}
function cmap(v){
  if(v>=cmapLogs[0])return cmapColors[0];
  for(let i=1;i<cmapLogs.length;i++){
    if(v>=cmapLogs[i]){
      const f=(v-cmapLogs[i])/(cmapLogs[i-1]-cmapLogs[i]);
      const a=hex(cmapColors[i]),b=hex(cmapColors[i-1]);
      return 'rgb('+a.map((q,k)=>Math.round(q+(b[k]-q)*f)).join(',')+')';
    }
  }
  return cmapColors[cmapColors.length-1];
}
function smoothPath(pts,sx,sy){
  const p=pts.map(q=>[sx(q[0]),sy(q[1])]);
  const closed=pts.length>2&&pts[0][0]===pts[pts.length-1][0]&&pts[0][1]===pts[pts.length-1][1];
  const n=p.length;
  let d='M'+p[0][0].toFixed(1)+' '+p[0][1].toFixed(1);
  for(let i=0;i<n-1;i++){
    const p0=i>0?p[i-1]:(closed?p[n-2]:p[i]);
    const p1=p[i],p2=p[i+1];
    const p3=i<n-2?p[i+2]:(closed?p[1]:p[i+1]);
    const c1=[p1[0]+(p2[0]-p0[0])/6,p1[1]+(p2[1]-p0[1])/6];
    const c2=[p2[0]-(p3[0]-p1[0])/6,p2[1]-(p3[1]-p1[1])/6];
    d+='C'+c1[0].toFixed(1)+' '+c1[1].toFixed(1)+' '+c2[0].toFixed(1)+' '+c2[1].toFixed(1)+' '+p2[0].toFixed(1)+' '+p2[1].toFixed(1);
  }
  return closed?d+'Z':d;
}
const defs=el('defs',{});

panelLetters.forEach((letter,idx)=>{
  const col=idx%3,row=Math.floor(idx/3);
  const H=rowH[row];
  const L=colX[col],T=rowY[row],R=L+W,B=T+H;
  const xs=v=>L+(v-xMin)/(xMax-xMin)*W;
  const ys=v=>T+(yMax-v)/(yMax-yMin)*H;
  const panel=el('g',{});
  
  

  const clip=el('clipPath',{id:'clip-'+letter},defs);
  el('rect',{x:L,y:T,width:W,height:H},clip);
  const blur=el('filter',{id:'blur-'+letter,filterUnits:'userSpaceOnUse',x:L-120,y:T-120,width:W+240,height:H+240,'color-interpolation-filters':'sRGB'},defs);
  el('feGaussianBlur',{stdDeviation:'22 13'},blur);

  const clipped=el('g',{'clip-path':'url(#clip-'+letter+')'},panel);
  const heat=el('g',{filter:'url(#blur-'+letter+')','shape-rendering':'crispEdges'},clipped);
  
  
  const dx=(xCells[1]-xCells[0])/2, dy=(yCells[0]-yCells[1])/2;
  fields[idx].forEach((rowVals,r)=>{
    rowVals.forEach((val,c)=>{
      let x0=xs(xCells[c]-dx),x1=xs(xCells[c]+dx);
      let y0=ys(yCells[r]+dy),y1=ys(yCells[r]-dy);
      if(c===0)x0-=110;
      if(c===rowVals.length-1)x1=R+110;
      if(r===0)y0=T-110;
      if(r===fields[idx].length-1)y1=B+110;
      const cell=el('rect',{x:x0,y:y0,width:x1-x0+.5,height:y1-y0+.5,fill:cmap(val)},heat);
      
      
    });
  });

  const cList=contours[idx];
  cList.forEach((pts,k)=>{
    const isWell=k===cList.length-2;
    const path=el('path',{d:smoothPath(pts,xs,ys),fill:isWell?cmap(0.6):'none',stroke:'#fff','stroke-width':13,'stroke-linejoin':'round'},clipped);
    
    
  });

  const vLine=el('line',{x1:xs(trueMuA[idx]),x2:xs(trueMuA[idx]),y1:B,y2:T,stroke:dashInk,'stroke-width':13,'stroke-dasharray':'62.5 36.2'},clipped);
  
  
  const hLine=el('line',{x1:L,x2:R,y1:ys(trueMuS[idx]),y2:ys(trueMuS[idx]),stroke:dashInk,'stroke-width':13,'stroke-dasharray':'62.5 36.2'},clipped);
  
  

  const frame=el('rect',{x:L,y:T,width:W,height:H,fill:'none',stroke:ink,'stroke-width':6},panel);
  
  

  // titles
  const title=el('g',{transform:'translate('+L+' '+T+')'},panel);
  
  
  const by1=-139, by2=-43, sh=line2Shift[idx];
  txt(title,'\u03bc',13,by1,80,47,'i','#000','title-mu-a');
  txt(title,'a,true',60,by1+13,58,150,'i','#000','title-mu-a-subscript');
  txt(title,'=',236,by1,80,68,'','#000','title-equals');
  txt(title,trueMuA[idx].toFixed(3),324,by1,80,183,'','#000','title-mu-a-value');
  txt(title,'mm',533,by1,80,137,'','#000','title-unit');
  txt(title,'\u22121',672,by1-29,58,68,'','#000','title-unit-exponent');
  txt(title,'('+letter+')',labelShift[idx],by2,80,labelWidth[idx],'b','#000','panel-label');
  txt(title,'\u03bc',128+sh,by2,80,47,'i','#000','title-mu-s');
  txt(title,'\u2032',172+sh,by2-24,58,16,'','#000','title-mu-s-prime');
  txt(title,'s,true',178+sh,by2+13,58,145,'i','#000','title-mu-s-subscript');
  txt(title,'=',348+sh,by2,80,68,'','#000','title-equals');
  txt(title,trueMuS[idx].toFixed(1),438+sh,by2,80,100,'','#000','title-mu-s-value');
  txt(title,'mm',568+sh,by2,80,133,'','#000','title-unit');
  txt(title,'\u22121',702+sh,by2-29,58,67,'','#000','title-unit-exponent');

  // y ticks + label
  if(col===0){
    yTicks.forEach((v,i)=>{
      txt(panel,yTickLabels[i],261,ys(v)+22,80,0,'',ink,'y-tick-label','end');
    });
    const yl=el('g',{transform:'translate(106 '+(T+0.763*H)+') rotate(-90)'},panel);
    
    
    txt(yl,'\u03bc',0,0,80,47,'i',ink,'y-title-mu');
    txt(yl,'\u2032',42,-24,58,16,'',ink,'y-title-prime');
    txt(yl,'s',47,14,58,26,'i',ink,'y-title-subscript');
    txt(yl,'(',119,3,92,26,'',ink,'y-title-paren');
    txt(yl,'mm',141,0,80,128,'',ink,'y-title-unit');
    txt(yl,'\u22121',273,-29,58,68,'',ink,'y-title-exponent');
    txt(yl,')',350,3,92,26,'',ink,'y-title-paren');
  }
  // x ticks + label
  if(row===2){
    xTicks.forEach((v,i)=>{
      txt(panel,xTickLabels[i],xs(v),B+100,80,0,'',ink,'x-tick-label','middle');
    });
    const xl=el('g',{transform:'translate('+L+' '+(B+205)+')'},panel);
    
    
    txt(xl,'\u03bc',187,0,80,47,'i',ink,'x-title-mu');
    txt(xl,'a',233,14,58,30,'i',ink,'x-title-subscript');
    txt(xl,'(',301,3,92,26,'',ink,'x-title-paren');
    txt(xl,'mm',326,0,80,135,'',ink,'x-title-unit');
    txt(xl,'\u22121',464,-29,58,68,'',ink,'x-title-exponent');
    txt(xl,')',542,3,92,26,'',ink,'x-title-paren');
  }
  // legend
  if(idx===0){
    const lg=el('g',{},panel);
    
    
    el('rect',{x:537,y:271,width:470,height:120,fill:'#fff',stroke:ink,'stroke-width':13},lg);
    const key=el('line',{x1:559,x2:802,y1:330,y2:330,stroke:dashInk,'stroke-width':13,'stroke-dasharray':'62.5 36.2'},lg);
    
    
    txt(lg,'True',820,350,80,163,'',ink,'legend-entry');
  }
});

// colour bars
rowY.forEach((T,ri)=>{
  const H=rowH[ri];
  const B=T+H;
  const cb=el('g',{});
  
  
  const topY=T+10, botY=B-10, vTop=3+116/122.5, dec=(H-20)/5.894;
  const cy=v=>topY+(vTop-v)*dec;
  el('rect',{x:2762,y:T-3,width:87,height:H+6,fill:ink},cb);
  for(let y=topY;y<botY;y+=4){
    const strip=el('rect',{x:2776,y:y,width:56,height:Math.min(4.6,botY-y),fill:cmap(vTop-(y+2-topY)/dec),'shape-rendering':'crispEdges'},cb);
    
    
  }
  cbTabDecades.forEach(d=>{
    const y=cy(d);
    [[-68,-66],[-53,-45],[-32,-6]].forEach(s=>{
      const a=y+s[0],b=Math.min(y+s[1],botY);
      if(b<=a)return;
      const tab=el('rect',{x:2832,y:a,width:4,height:b-a,fill:cmap(d-(s[0]+s[1])/2/dec),'shape-rendering':'crispEdges'},cb);
      
      
    });
  });
  cbExponents.forEach((d,i)=>{
    const y=cy(d);
    const tick=el('rect',{x:2829,y:y-6,width:4,height:13,fill:ink},cb);
    
    
    txt(cb,'10',2876,y+17,80,76,'',ink,'colorbar-tick-label');
    if(d<0) txt(cb,cbExponentLabels[i],2957,y-11,58,72,'',ink,'colorbar-tick-exponent');
    else txt(cb,cbExponentLabels[i],2957,y-11,58,29,'',ink,'colorbar-tick-exponent');
  });
  const lab=el('g',{transform:'translate(3120 '+(T+0.555*H)+') rotate(-90)'},cb);
  
  
  txt(lab,'\u03c7',0,0,84,46,'i',ink,'colorbar-title-chi');
  txt(lab,'2',49,-26,58,26,'',ink,'colorbar-title-exponent');
});
</script>
</body>
</html>
